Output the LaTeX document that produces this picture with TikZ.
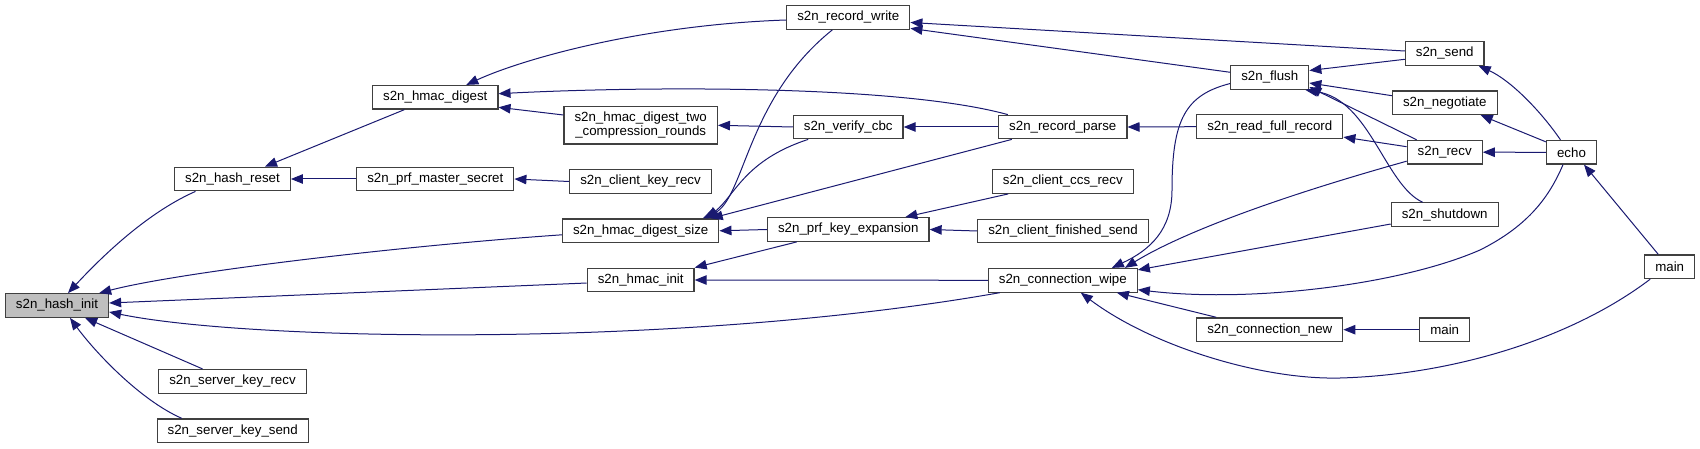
\documentclass[tikz,border=0pt]{standalone}
\usepackage{fontspec}
\setmainfont{Liberation Sans}
\usetikzlibrary{arrows.meta}
\definecolor{edgeblue}{HTML}{191970}
\definecolor{boxline}{HTML}{404040}
\definecolor{rootfill}{HTML}{BFBFBF}

\begin{document}
\begin{tikzpicture}[x=1pt, y=-1pt,
    every node/.style={align=center, font=\fontsize{13.3}{14.3}\selectfont},
    fn/.style={draw=boxline, line width=1.2pt, fill=white, minimum height=23.6pt, inner xsep=10.5pt, inner ysep=0pt},
    root/.style={fn, fill=rootfill},
    call/.style={draw=edgeblue, line width=1pt, {Triangle[length=12pt,width=9.5pt]}-}]
    \useasboundingbox (0,0) rectangle (1700,449);

    \node[root] (hashinit) at (57,305.5) {s2n\_hash\_init};
    \node[fn] (hashreset) at (232.5,179) {s2n\_hash\_reset};
    \node[fn] (srvkeyrecv) at (232.5,381.3) {s2n\_server\_key\_recv};
    \node[fn] (srvkeysend) at (232.7,430.7) {s2n\_server\_key\_send};
    \node[fn] (hmacdigest) at (435.3,97.3) {s2n\_hmac\_digest};
    \node[fn] (prfmaster) at (435.3,179) {s2n\_prf\_master\_secret};
    \node[fn, minimum height=37.3pt] (hmactwo) at (640.7,125.3) {s2n\_hmac\_digest\_two\\\_compression\_rounds};
    \node[fn] (clikeyrecv) at (640.5,181.5) {s2n\_client\_key\_recv};
    \node[fn] (hmacsize) at (640.7,230.8) {s2n\_hmac\_digest\_size};
    \node[fn] (hmacinit) at (640.7,280) {s2n\_hmac\_init};
    \node[fn] (recwrite) at (848.3,17.5) {s2n\_record\_write};
    \node[fn] (verifycbc) at (848.2,127) {s2n\_verify\_cbc};
    \node[fn] (prfkeyexp) at (848.3,229.5) {s2n\_prf\_key\_expansion};
    \node[fn] (recparse) at (1062.8,127) {s2n\_record\_parse};
    \node[fn] (ccsrecv) at (1062.8,181.5) {s2n\_client\_ccs\_recv};
    \node[fn] (finsend) at (1063,231) {s2n\_client\_finished\_send};
    \node[fn] (connwipe) at (1062.8,280.3) {s2n\_connection\_wipe};
    \node[fn] (flush) at (1269.8,77.5) {s2n\_flush};
    \node[fn] (readfull) at (1269.8,126.7) {s2n\_read\_full\_record};
    \node[fn] (connnew) at (1269.8,329.7) {s2n\_connection\_new};
    \node[fn] (send) at (1444.7,53.5) {s2n\_send};
    \node[fn] (negotiate) at (1444.8,102.8) {s2n\_negotiate};
    \node[fn] (recv) at (1444.7,152.2) {s2n\_recv};
    \node[fn] (shutdown) at (1444.7,214.7) {s2n\_shutdown};
    \node[fn] (mainb) at (1444.7,329.7) {main};
    \node[fn] (echo) at (1571.5,152.3) {echo};
    \node[fn] (maina) at (1669.7,266.8) {main};

    \draw[call] ([xshift=11pt]hashinit.north) .. controls (108,250) and (151,211) .. ([xshift=-37pt]hashreset.south);
    \draw[call] ([xshift=-10pt]hashinit.north east) .. controls (180,272) and (400,246) .. ([yshift=-4pt]hmacsize.west);
    \draw[call] ([yshift=2.5pt]hashinit.east) -- ([yshift=-3pt]hmacinit.west);
    \draw[call] ([yshift=-6.5pt]hashinit.east) .. controls (250,341) and (680,349) .. ([xshift=12pt]connwipe.south west);
    \draw[call] ([xshift=-24pt]hashinit.south east) -- ([xshift=-30pt]srvkeyrecv.north);
    \draw[call] ([xshift=13pt]hashinit.south) .. controls (95,352) and (140,400) .. ([xshift=-51pt]srvkeysend.north);
    \draw[call] ([xshift=32.5pt]hashreset.north) -- ([xshift=-31pt]hmacdigest.south);
    \draw[call] (hashreset.east) -- (prfmaster.west);
    \draw[call] ([xshift=31pt]hmacdigest.north) .. controls (520,60) and (640,25) .. ([yshift=-2.5pt]recwrite.west);
    \draw[call] ([yshift=3.6pt]hmacdigest.east) .. controls (650,86) and (900,85) .. ([xshift=-55pt]recparse.north);
    \draw[call] ([yshift=-10pt]hmacdigest.east) -- ([yshift=10.3pt]hmactwo.west);
    \draw[call] (prfmaster.east) -- (clikeyrecv.west);
    \draw[call] (hmactwo.east) -- (verifycbc.west);
    \draw[call] ([xshift=62pt]hmacsize.north) .. controls (745,200) and (745,100) .. ([xshift=-16pt]recwrite.south);
    \draw[call] ([xshift=66pt]hmacsize.north) .. controls (735,195) and (745,160) .. ([xshift=-40pt]verifycbc.south);
    \draw[call] ([xshift=70pt]hmacsize.north) -- ([xshift=-51pt]recparse.south);
    \draw[call] (hmacsize.east) -- (prfkeyexp.west);
    \draw[call] (hmacinit.north east) -- ([xshift=-51.5pt]prfkeyexp.south);
    \draw[call] (hmacinit.east) -- (connwipe.west);
    \draw[call] (verifycbc.east) -- (recparse.west);
    \draw[call] ([xshift=57pt]prfkeyexp.north) -- ([xshift=-54.5pt]ccsrecv.south);
    \draw[call] (prfkeyexp.east) -- (finsend.west);
    \draw[call] ([yshift=-5pt]recwrite.east) -- ([yshift=2.5pt]send.west);
    \draw[call] ([yshift=1.5pt]recwrite.south east) -- ([yshift=5.2pt]flush.west);
    \draw[call] (recparse.east) -- (readfull.west);
    \draw[call] ([xshift=-26pt]connwipe.north east) .. controls (1150,250) and (1172,230) .. (1172,190) .. controls (1172,120) and (1185,95) .. ([yshift=-6pt]flush.west);
    \draw[call] ([xshift=-13pt]connwipe.north east) .. controls (1170,240) and (1250,205) .. ([yshift=-9pt]recv.west);
    \draw[call] ([yshift=-2pt]connwipe.north east) -- ([yshift=-9.3pt]shutdown.west);
    \draw[call] ([yshift=3pt]connwipe.south east) .. controls (1250,303) and (1400,285) .. (1480,250) .. controls (1530,225) and (1550,195) .. ([xshift=-8.5pt]echo.south);
    \draw[call] ([xshift=-21pt]connwipe.south east) -- ([xshift=20pt]connnew.north west);
    \draw[call] ([xshift=18pt]connwipe.south) .. controls (1150,345) and (1260,380) .. (1340,378) .. controls (1450,375) and (1570,340) .. ([xshift=6pt]maina.south west);
    \draw[call] ([yshift=7pt]flush.east) -- ([yshift=-5.8pt]send.west);
    \draw[call] ([yshift=-5.5pt]flush.east) -- ([yshift=7.1pt]negotiate.west);
    \draw[call] ([yshift=-9.5pt]flush.east) -- ([xshift=10pt]recv.north west);
    \draw[call] ([xshift=-4pt]flush.south east) .. controls (1370,100) and (1385,185) .. ([xshift=-22pt]shutdown.north);
    \draw[call] ([yshift=2pt]readfull.south east) -- ([yshift=5.5pt]recv.west);
    \draw[call] ([xshift=-6pt]send.south east) .. controls (1510,80) and (1540,110) .. ([xshift=-11pt]echo.north);
    \draw[call] ([xshift=-17pt]negotiate.south east) -- ([yshift=-2pt]echo.north west);
    \draw[call] (recv.east) -- (echo.west);
    \draw[call] ([xshift=-13pt]echo.south east) -- ([xshift=-11.4pt]maina.north);
    \draw[call] (connnew.east) -- (mainb.west);
\end{tikzpicture}
\end{document}
